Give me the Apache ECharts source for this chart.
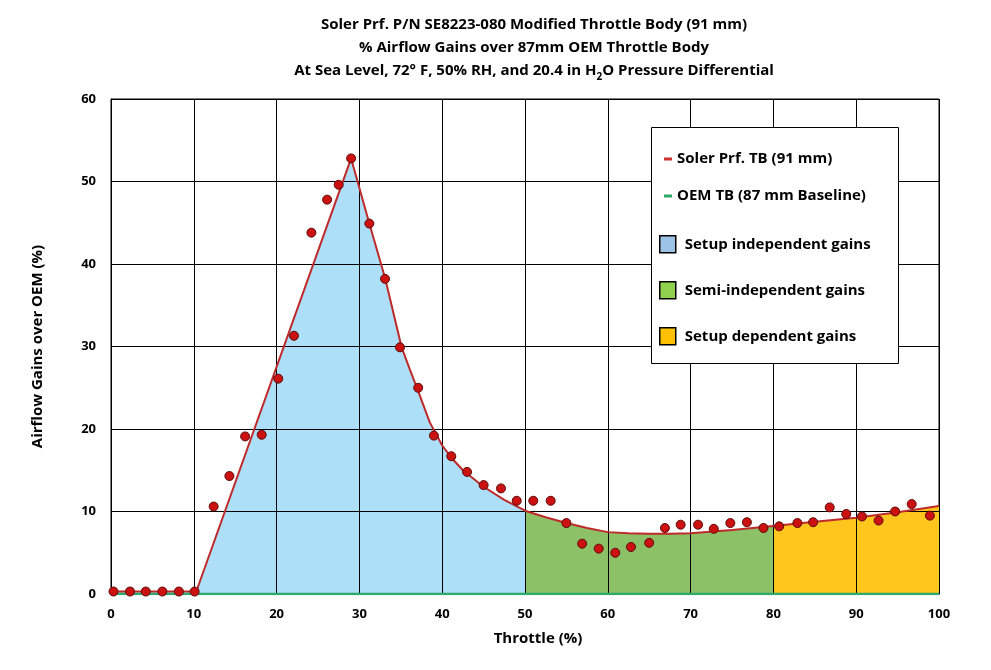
<!DOCTYPE html>
<html><head><meta charset="utf-8">
<script src="https://cdn.jsdelivr.net/npm/echarts@6/dist/echarts.min.js"></script>
<style>html,body{margin:0;padding:0;background:#fff}#c{width:991px;height:670px}</style>
</head><body><div id="c"></div>
<script>
// ---- data ----
const titleText = 'Soler Prf. P/N SE8223-080 Modified Throttle Body (91 mm)\n% Airflow Gains over 87mm OEM Throttle Body\nAt Sea Level, 72\u00B0 F, 50% RH, and 20.4 in H{sub|2}O Pressure Differential';
const xName = 'Throttle (%)';
const yName = 'Airflow Gains over OEM (%)';
const solerName = 'Soler Prf. TB (91 mm)';
const oemName = 'OEM TB (87 mm Baseline)';

// measured points
const throttle = [0.3, 2.3, 4.2, 6.2, 8.2, 10.1, 12.4, 14.3, 16.2, 18.2, 20.2, 22.1, 24.2, 26.1, 27.5, 29.0, 31.2, 33.1, 34.9, 37.1, 39.0, 41.1, 43.0, 45.0, 47.1, 49.0, 51.0, 53.1, 55.0, 56.9, 58.9, 60.9, 62.8, 65.0, 66.9, 68.8, 70.9, 72.8, 74.8, 76.8, 78.8, 80.7, 82.9, 84.8, 86.8, 88.8, 90.7, 92.7, 94.7, 96.7, 98.9];
const gains = [0.3, 0.3, 0.3, 0.3, 0.3, 0.3, 10.6, 14.3, 19.1, 19.3, 26.1, 31.3, 43.8, 47.8, 49.6, 52.8, 44.9, 38.2, 29.9, 25.0, 19.2, 16.7, 14.8, 13.2, 12.8, 11.3, 11.3, 11.3, 8.6, 6.1, 5.5, 5.0, 5.7, 6.2, 8.0, 8.4, 8.4, 7.9, 8.6, 8.7, 8.0, 8.2, 8.6, 8.7, 10.5, 9.7, 9.4, 8.9, 10.0, 10.9, 9.5];

// fitted Soler curve
const fitThrottle = [0, 10.3, 29.0, 31.2, 33.1, 35.1, 36.1, 37.1, 38.5, 40.0, 41.3, 42.5, 45.0, 47.5, 50.0, 52.5, 55.0, 57.5, 60.0, 62.5, 65.0, 67.5, 70.0, 75.0, 80.0, 85.0, 90.0, 95.0, 100.0];
const fitGains = [0.3, 0.3, 52.8, 44.9, 38.3, 29.9, 27.2, 24.6, 20.8, 18.0, 16.3, 15.0, 13.0, 11.4, 10.1, 9.3, 8.6, 8.0, 7.5, 7.35, 7.3, 7.3, 7.35, 7.75, 8.25, 8.75, 9.25, 9.9, 10.67];

// OEM baseline
const baseThrottle = [0, 100];
const baseGains = [0, 0];

// shaded zones
const zoneNames = ['Setup independent gains', 'Semi-independent gains', 'Setup dependent gains'];
const zoneStart = [0, 50, 80];
const zoneEnd = [50, 80, 100];
const zoneFill = ['#ADDFF8', '#8CC168', '#FFC61E'];
const zoneSwatch = ['#9DC3E6', '#92D050', '#FFC000'];

// ---- chart ----
const pairs = (xs, ys) => xs.map((x, i) => [x, ys[i]]);
const fitPairs = pairs(fitThrottle, fitGains);
const FONT = 'Open Sans';

const zoneSeries = zoneNames.map((n, i) => ({
  name: n, type: 'line', z: 1,
  data: fitPairs.filter(p => p[0] >= zoneStart[i] && p[0] <= zoneEnd[i]),
  showSymbol: false, symbol: 'none', silent: true,
  lineStyle: { width: 0 },
  itemStyle: { color: zoneFill[i] },
  areaStyle: { color: zoneFill[i], opacity: 1 }
}));

const chart = echarts.init(document.getElementById('c'), null, { renderer: 'canvas' });
chart.setOption({
  animation: false,
  backgroundColor: '#fff',
  title: {
    text: titleText, left: 529, textAlign: 'center', top: 8,
    textStyle: {
      fontFamily: FONT, fontWeight: 'bold', fontSize: 15, lineHeight: 23, color: '#000',
      rich: { sub: { fontFamily: FONT, fontWeight: 'bold', fontSize: 10, lineHeight: 12, verticalAlign: 'bottom', color: '#000' } }
    }
  },
  grid: { left: 111, right: 52, top: 99, bottom: 76, show: true, borderColor: '#000', borderWidth: 1, backgroundColor: 'transparent' },
  xAxis: {
    type: 'value', min: 0, max: 100, interval: 10, z: 3,
    axisLine: { show: true, lineStyle: { color: '#000', width: 1 } },
    axisTick: { show: false },
    splitLine: { show: true, lineStyle: { color: '#000', width: 1 } },
    axisLabel: { fontFamily: FONT, fontWeight: 'bold', fontSize: 13, color: '#000', margin: 14 },
    name: xName, nameLocation: 'middle', nameGap: 37,
    nameTextStyle: { fontFamily: FONT, fontWeight: 'bold', fontSize: 15, color: '#000', padding: [0, 0, 0, 26] }
  },
  yAxis: {
    type: 'value', min: 0, max: 60, interval: 10, z: 3,
    axisLine: { show: true, lineStyle: { color: '#000', width: 1 } },
    axisTick: { show: false },
    splitLine: { show: true, lineStyle: { color: '#000', width: 1 } },
    axisLabel: { fontFamily: FONT, fontWeight: 'bold', fontSize: 13, color: '#000', margin: 15 },
    name: yName, nameLocation: 'middle', nameGap: 66,
    nameTextStyle: { fontFamily: FONT, fontWeight: 'bold', fontSize: 15, color: '#000' }
  },
  graphic: {
    elements: [{
      type: 'rect', z: 10,
      shape: { x: 651.5, y: 127.5, width: 247, height: 236 },
      style: { fill: '#fff', stroke: '#000', lineWidth: 1 }
    }]
  },
  legend: [
    {
      orient: 'vertical', left: 664, top: 150, padding: 0, z: 20, selectedMode: false,
      itemWidth: 8, itemHeight: 3, itemGap: 19,
      textStyle: { fontFamily: FONT, fontWeight: 'bold', fontSize: 15, color: '#000', lineHeight: 18 },
      data: [
        { name: solerName, icon: 'rect', itemStyle: { color: '#D0312D', borderWidth: 0 } },
        { name: oemName, icon: 'rect', itemStyle: { color: '#2EAA6B', borderWidth: 0 } }
      ]
    },
    {
      orient: 'vertical', left: 659, top: 235, padding: 0, z: 20, selectedMode: false,
      itemWidth: 16, itemHeight: 17, itemGap: 27.5,
      textStyle: { fontFamily: FONT, fontWeight: 'bold', fontSize: 15, color: '#000', lineHeight: 18, padding: [0, 0, 0, 4] },
      data: zoneNames.map((n, i) => ({ name: n, icon: 'rect', itemStyle: { color: zoneSwatch[i], borderColor: '#000', borderWidth: 1.5 } }))
    }
  ],
  series: [
    ...zoneSeries,
    {
      name: oemName, type: 'line', z: 4, data: pairs(baseThrottle, baseGains),
      showSymbol: false, symbol: 'none', silent: true,
      lineStyle: { color: '#2EAA6B', width: 2.5 }, itemStyle: { color: '#2EAA6B' }
    },
    {
      name: solerName, type: 'line', z: 5, data: fitPairs,
      showSymbol: false, symbol: 'none', silent: true,
      lineStyle: { color: '#BE2A2A', width: 2 }, itemStyle: { color: '#BE2A2A' }
    },
    {
      name: 'Soler measured', type: 'scatter', z: 6, data: pairs(throttle, gains),
      symbolSize: 9, silent: true,
      itemStyle: { color: '#CC1111', borderColor: '#5C0A0A', borderWidth: 1, opacity: 1 }
    }
  ]
});
</script>
</body></html>
